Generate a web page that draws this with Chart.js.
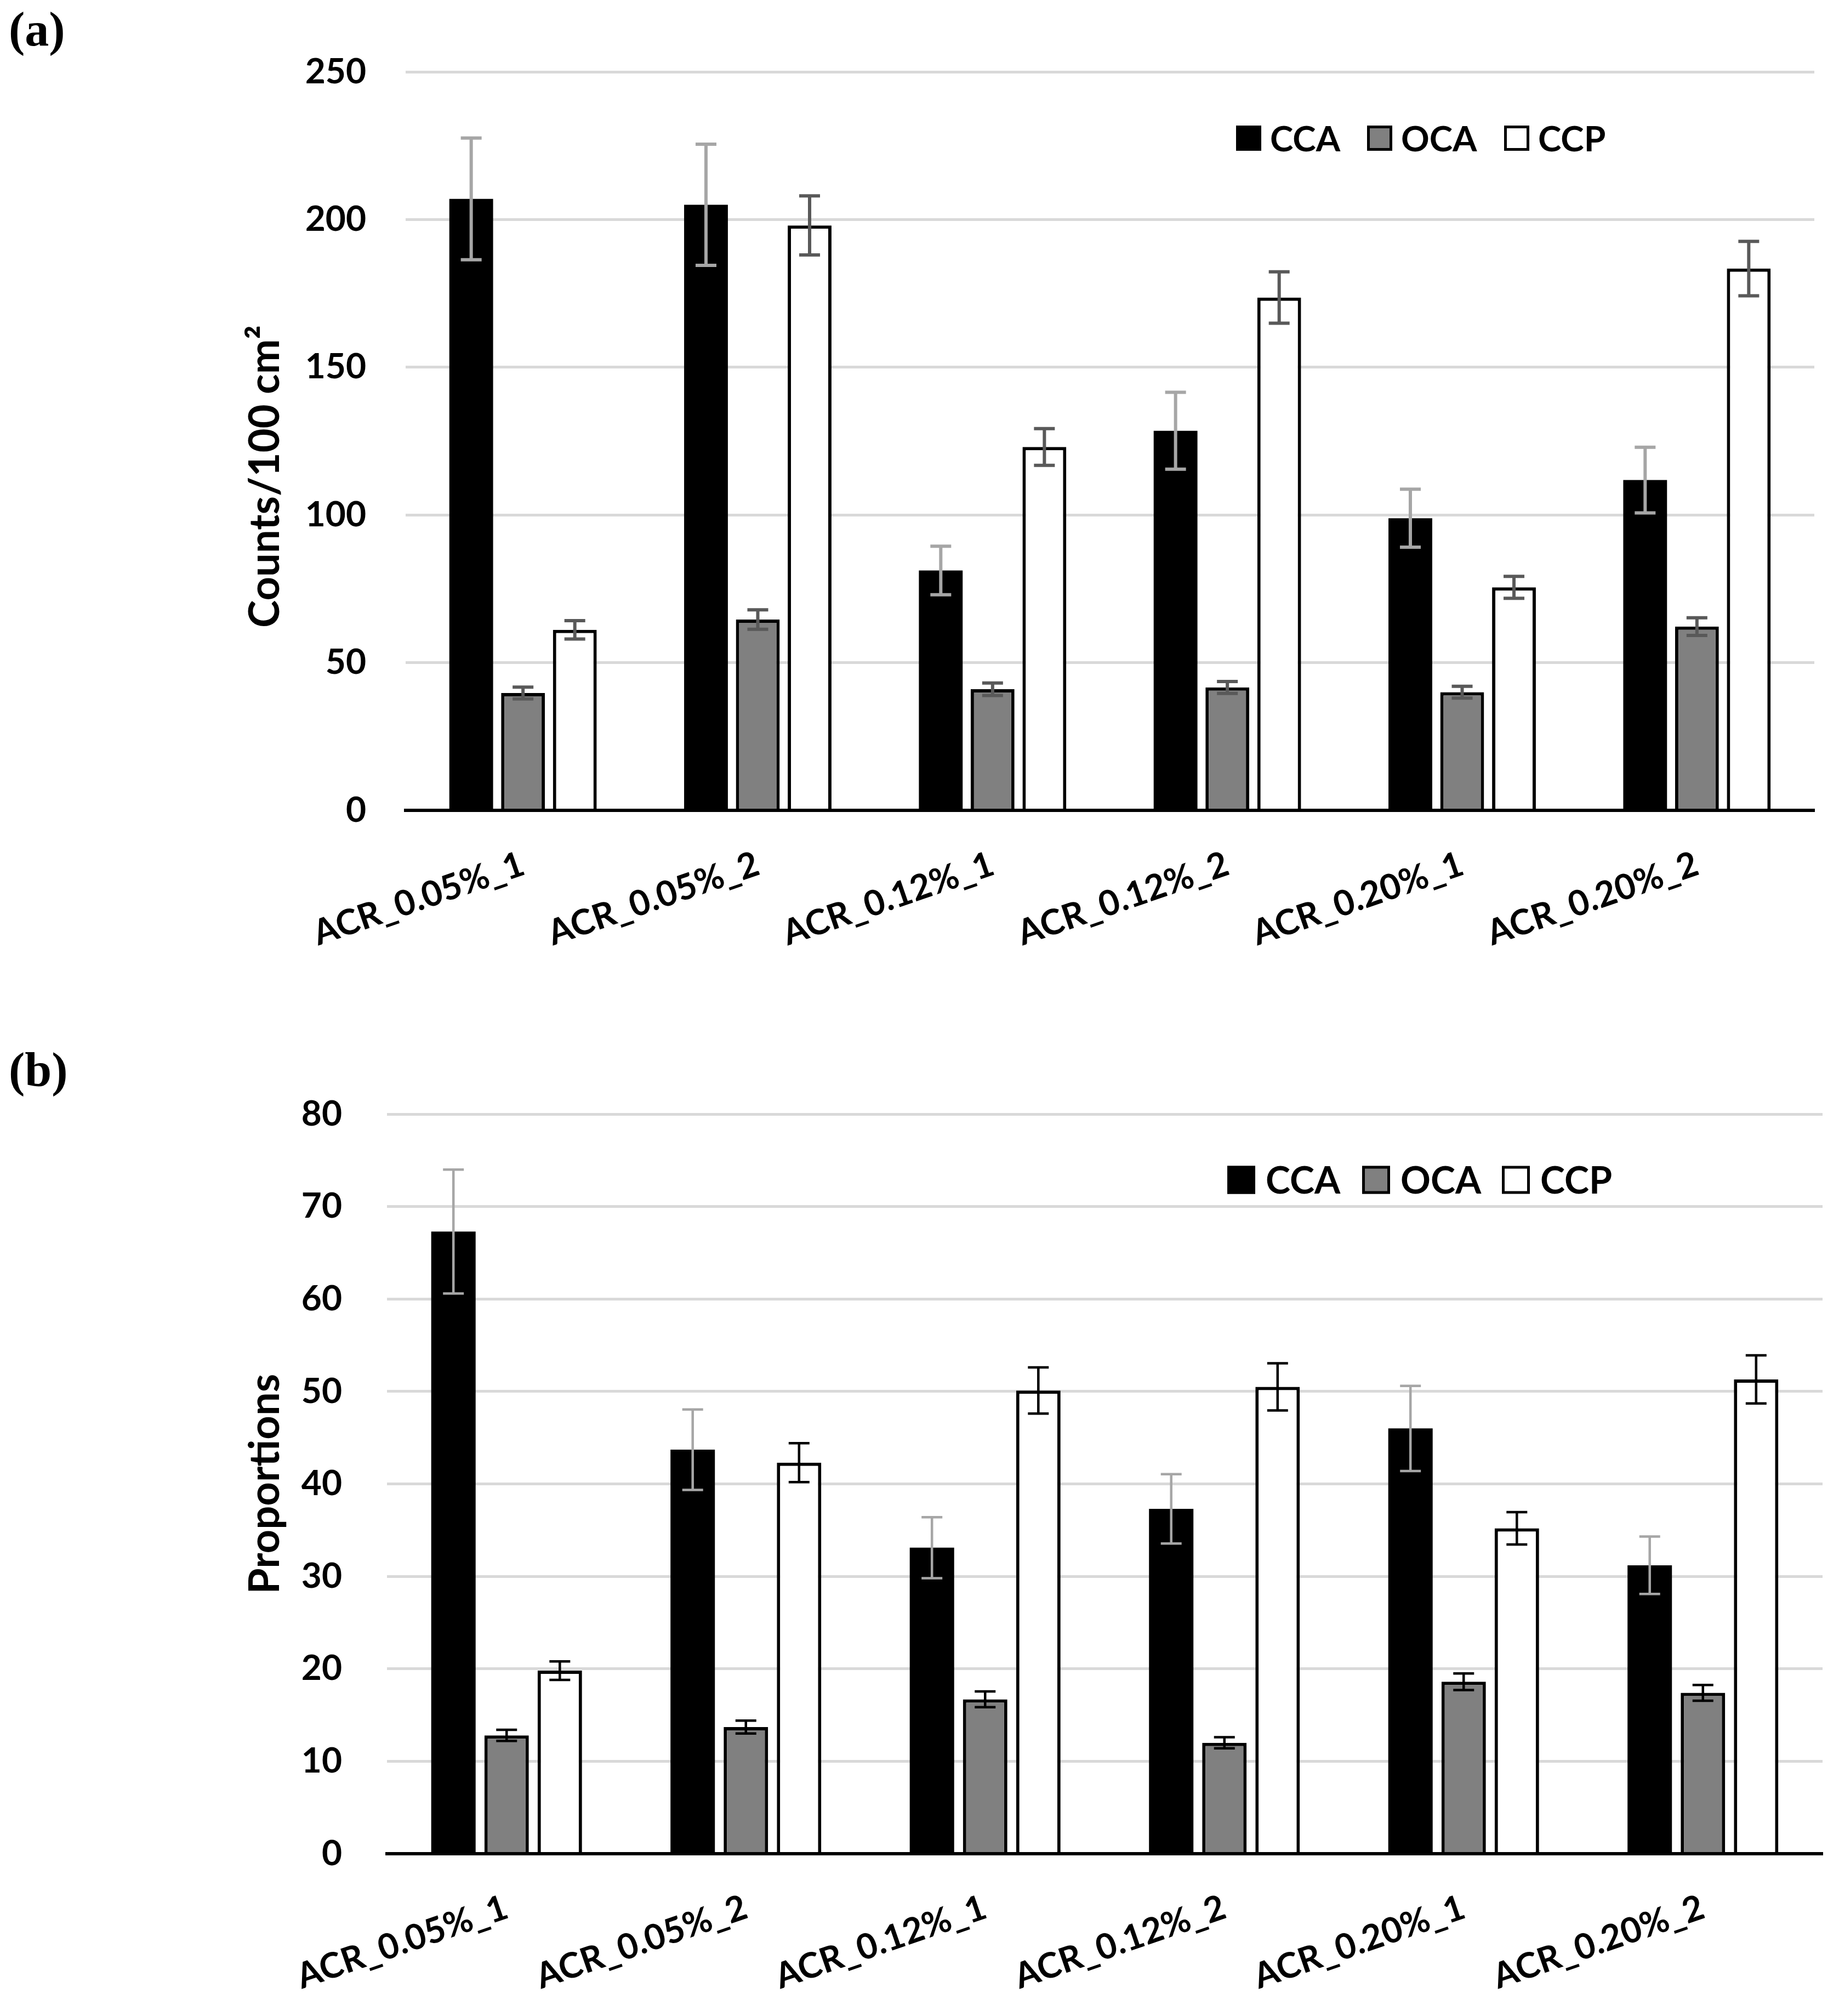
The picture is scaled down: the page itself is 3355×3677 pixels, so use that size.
<!DOCTYPE html>
<html lang="en">
<head>
  <meta charset="UTF-8" />
  <title>CCA / OCA / CCP counts and proportions</title>
  <script src="https://cdn.jsdelivr.net/npm/chart.js"></script>
  <style>
    body {
      margin: 0;
      background: #fff;
      width: 3355px;
      height: 3677px;
      position: relative;
      overflow: hidden;
    }
    .panel {
      position: absolute;
      font-family: 'Liberation Serif', 'DejaVu Serif', serif;
      font-weight: bold;
      font-size: 88px;
      line-height: 1;
      color: #000;
    }
    canvas {
      position: absolute;
      left: 0;
    }
  </style>
</head>
<body>

<div class="panel" style="left:16px; top:10px;">(a)</div>
<div class="panel" style="left:16px; top:1908px;">(b)</div>

<canvas id="countsChart" width="3355" height="1800" style="top:0"></canvas>
<canvas id="propChart" width="3355" height="1817" style="top:1860px"></canvas>

<script>
const categories = ['ACR_0.05%_1', 'ACR_0.05%_2', 'ACR_0.12%_1', 'ACR_0.12%_2', 'ACR_0.20%_1', 'ACR_0.20%_2'];
const seriesNames = ['CCA', 'OCA', 'CCP'];

// (a) counts per 100 cm2
const countsCCA    = [207.0, 205.0, 81.2, 128.5, 98.9, 111.8];
const countsCCAErr = [20.6, 20.5, 8.2, 13.0, 9.8, 11.1];
const countsOCA    = [39.7, 64.6, 41.0, 41.6, 40.0, 62.2];
const countsOCAErr = [2.0, 3.3, 2.1, 2.0, 2.0, 3.0];
const countsCCP    = [61.1, 198.0, 123.0, 173.6, 75.5, 183.4];
const countsCCPErr = [3.1, 10.0, 6.2, 8.7, 3.7, 9.2];
const countsTicks  = { min: 0, max: 250, step: 50 };

// (b) proportions
const propCCA    = [67.3, 43.7, 33.1, 37.3, 46.0, 31.2];
const propCCAErr = [6.7, 4.35, 3.3, 3.75, 4.6, 3.1];
const propOCA    = [12.8, 13.7, 16.7, 12.0, 18.6, 17.4];
const propOCAErr = [0.6, 0.7, 0.85, 0.6, 0.9, 0.85];
const propCCP    = [19.8, 42.3, 50.1, 50.5, 35.2, 51.3];
const propCCPErr = [1.0, 2.1, 2.5, 2.55, 1.75, 2.6];
const propTicks  = { min: 0, max: 80, step: 10 };

Chart.defaults.font.family = 'Lato, "Open Sans", sans-serif';
Chart.defaults.font.weight = 'bold';
Chart.defaults.color = '#000';

// error bars drawn on top of the bars
const errorBars = {
  id: 'errorBars',
  afterDatasetsDraw(chart, args, opts) {
    const ctx = chart.ctx;
    const y = chart.scales.y;
    chart.data.datasets.forEach((ds, i) => {
      const meta = chart.getDatasetMeta(i);
      ctx.save();
      ctx.strokeStyle = ds.errorColor;
      ctx.lineWidth = opts.lineWidth;
      meta.data.forEach((bar, j) => {
        const v = ds.data[j], e = ds.errors[j];
        const top = y.getPixelForValue(v + e);
        const bot = y.getPixelForValue(v - e);
        ctx.beginPath();
        ctx.moveTo(bar.x, top); ctx.lineTo(bar.x, bot);
        ctx.moveTo(bar.x - opts.cap, top); ctx.lineTo(bar.x + opts.cap, top);
        ctx.moveTo(bar.x - opts.cap, bot); ctx.lineTo(bar.x + opts.cap, bot);
        ctx.stroke();
      });
      ctx.restore();
    });
  }
};

// legend with square swatches inside the plot
const boxLegend = {
  id: 'boxLegend',
  afterDraw(chart, args, opts) {
    const ctx = chart.ctx;
    const b = opts.box;
    ctx.save();
    ctx.font = 'bold ' + opts.size + 'px Lato, "Open Sans", sans-serif';
    ctx.textBaseline = 'middle';
    chart.data.datasets.forEach((ds, i) => {
      const x = opts.xs[i];
      ctx.fillStyle = ds.backgroundColor;
      ctx.fillRect(x, opts.y - b / 2, b, b);
      ctx.lineWidth = opts.border;
      ctx.strokeStyle = '#000';
      ctx.strokeRect(x + opts.border / 2, opts.y - b / 2 + opts.border / 2, b - opts.border, b - opts.border);
      ctx.fillStyle = '#000';
      ctx.fillText(ds.label, x + b + opts.gap, opts.y + 3);
    });
    ctx.restore();
  }
};

function makeDatasets(cca, ccaErr, oca, ocaErr, ccp, ccpErr, errDark, border) {
  return [
    { label: seriesNames[0], data: cca, errors: ccaErr, errorColor: '#a6a6a6',
      backgroundColor: '#000000', borderColor: '#000000', borderWidth: 0 },
    { label: seriesNames[1], data: oca, errors: ocaErr, errorColor: errDark,
      backgroundColor: '#808080', borderColor: '#000000', borderWidth: border },
    { label: seriesNames[2], data: ccp, errors: ccpErr, errorColor: errDark,
      backgroundColor: '#ffffff', borderColor: '#000000', borderWidth: border }
  ];
}

function makeChart(id, cfg) {
  return new Chart(document.getElementById(id), {
    type: 'bar',
    data: { labels: categories, datasets: cfg.datasets },
    options: {
      responsive: false,
      animation: false,
      devicePixelRatio: 1,
      layout: { padding: { top: cfg.top, right: cfg.right, left: 400, bottom: 0 } },
      datasets: { bar: { categoryPercentage: cfg.catPct, barPercentage: cfg.barPct } },
      plugins: {
        legend: { display: false },
        tooltip: { enabled: false },
        errorBars: cfg.errorBars,
        boxLegend: cfg.legend
      },
      scales: {
        x: {
          grid: { display: false, drawTicks: false },
          border: { display: true, color: '#000', width: 6, z: 1 },
          ticks: { font: { size: 64 }, maxRotation: 19, minRotation: 19, padding: cfg.xPad, autoSkip: false },
          afterFit: s => { s.height = cfg.xHeight; }
        },
        y: {
          min: cfg.ticks.min,
          max: cfg.ticks.max,
          ticks: { stepSize: cfg.ticks.step, font: { size: 64 }, padding: cfg.yPad },
          grid: {
            drawTicks: false,
            lineWidth: 5,
            color: c => (c.tick && c.tick.value === 0) ? 'rgba(0,0,0,0)' : '#d9d9d9'
          },
          border: { display: false },
          title: { display: true, text: cfg.title, font: { size: 76 }, padding: { top: 39, bottom: 0 } },
          afterFit: s => { s.width = cfg.yWidth; }
        }
      }
    },
    plugins: [errorBars, boxLegend]
  });
}

makeChart('countsChart', {
  datasets: makeDatasets(countsCCA, countsCCAErr, countsOCA, countsOCAErr, countsCCP, countsCCPErr, '#595959', 6),
  ticks: countsTicks,
  title: 'Counts/100 cm²       ',   // trailing spaces nudge the title down like the original
  top: 131, right: 45, yWidth: 340, yPad: 72, xHeight: 322, xPad: 60,
  catPct: 0.662, barPct: 0.845,
  errorBars: { lineWidth: 6, cap: 19 },
  legend: { xs: [2255, 2494, 2744], y: 252, box: 46, gap: 16, size: 64, border: 5 }
});

makeChart('propChart', {
  datasets: makeDatasets(propCCA, propCCAErr, propOCA, propOCAErr, propCCP, propCCPErr, '#000000', 6),
  ticks: propTicks,
  title: 'Proportions',
  top: 172, right: 30, yWidth: 306, yPad: 82, xHeight: 296, xPad: 60,
  catPct: 0.667, barPct: 0.835,
  errorBars: { lineWidth: 4.5, cap: 19 },
  legend: { xs: [2239, 2485, 2740], y: 292, box: 51, gap: 19, size: 68, border: 5 }
});
</script>

</body>
</html>
